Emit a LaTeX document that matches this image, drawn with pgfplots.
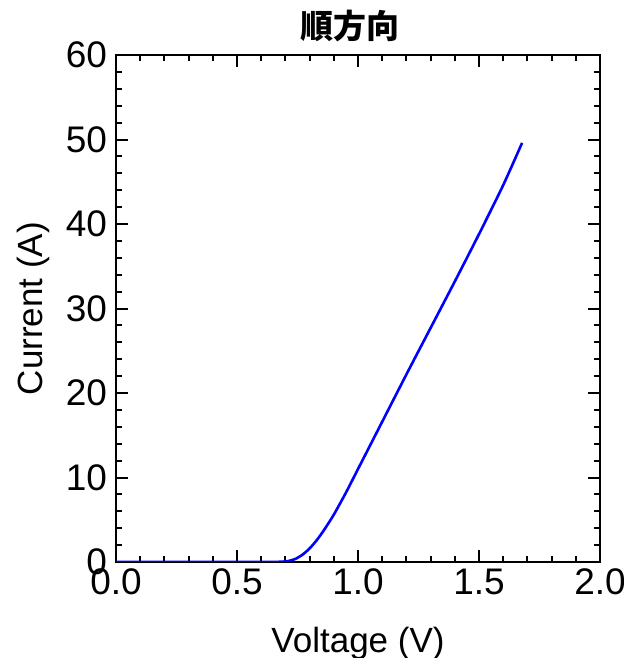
\documentclass[border=0pt]{standalone}
\usepackage{pgfplots}
\pgfplotsset{compat=1.18}
\usepackage{fontspec}
\setmainfont{Liberation Sans}
\newfontfamily\cjk{Noto Sans CJK JP}
\begin{document}
\begin{tikzpicture}
\useasboundingbox (0,0) rectangle (312pt,329pt);
\begin{axis}[
  at={(58pt,48pt)}, anchor=south west,
  scale only axis, width=242pt, height=253.5pt,
  xmin=0, xmax=2, ymin=0, ymax=60,
  xtick={0,0.5,1,1.5,2}, ytick={0,10,20,30,40,50,60},
  minor x tick num=4, minor y tick num=4,
  tick align=inside, ticks=both,
  major tick length=6pt, minor tick length=3pt,
  axis line style={line width=1pt},
  every tick/.style={black, line width=1pt},
  /pgf/number format/assume math mode=true,
  xticklabel style={/pgf/number format/fixed, /pgf/number format/precision=1, /pgf/number format/fixed zerofill, font=\fontsize{18.5}{20}\selectfont, yshift=0pt},
  yticklabel style={font=\fontsize{18.5}{20}\selectfont, xshift=-1pt},
  xlabel={Voltage (V)}, ylabel={Current (A)},
  label style={font=\fontsize{17.5}{20}\selectfont},
  xlabel style={yshift=-9pt},
  ylabel style={yshift=1pt},
  title={\cjk\bfseries 順方向},
  title style={font=\fontsize{16.5}{18}\selectfont, yshift=-3pt, xshift=-4pt},
]
\addplot[blue, line width=1.3pt, smooth, tension=0.4] coordinates {
(0,0) (0.3,0) (0.6,0.005) (0.67,0.02) (0.71,0.1) (0.74,0.35) (0.77,0.85)
(0.80,1.6) (0.83,2.6) (0.86,3.8) (0.9,5.6) (0.95,8.2) (1.0,11.0)
(1.1,16.6) (1.2,22.2) (1.3,27.7) (1.4,33.2) (1.5,38.8) (1.6,44.6)
(1.678,49.6)
};
\end{axis}
\end{tikzpicture}
\end{document}
